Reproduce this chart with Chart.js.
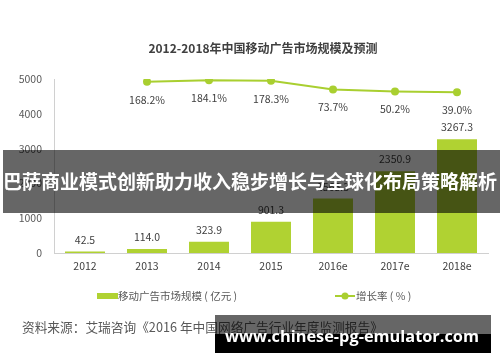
<!DOCTYPE html>
<html>
<head>
<meta charset="utf-8">
<script src="https://cdn.jsdelivr.net/npm/chart.js@4.4.1/dist/chart.umd.min.js"></script>
<style>
  html, body { margin: 0; padding: 0; background: #fff; }
</style>
</head>
<body>
<canvas id="canvas" width="500" height="362"></canvas>
<script>
// data
const years = ['2012', '2013', '2014', '2015', '2016e', '2017e', '2018e'];
const marketSize = [42.5, 114.0, 323.9, 901.3, 1565.3, 2350.9, 3267.3];   // 亿元
const growthRate = [null, 168.2, 184.1, 178.3, 73.7, 50.2, 39.0];         // %

const titleText = '2012-2018年中国移动广告市场规模及预测';
const barLegend = '移动广告市场规模 ( 亿元 )';
const lineLegend = '增长率 ( % )';
const sourceText = '资料来源：艾瑞咨询《2016 年中国网络广告行业年度监测报告》';
const bannerText = '巴萨商业模式创新助力收入稳步增长与全球化布局策略解析';
const siteText = 'www.chinese-pg-emulator.com';

const green = '#b0d232';
const lineGreen = '#a9cf30';
const cjk = '"Noto Sans CJK SC", "Noto Sans", sans-serif';

// text fitted to a given width
function fitFont(ctx, text, weight, family, width) {
  ctx.font = weight + ' 20px ' + family;
  let size = 20 * width / ctx.measureText(text).width;
  ctx.font = weight + ' ' + size + 'px ' + family;
}

const labelsPlugin = {
  id: 'labels',
  afterDatasetsDraw(chart) {
    let ctx = chart.ctx;
    ctx.save();
    ctx.fillStyle = '#404040';
    ctx.font = '10.5px ' + cjk;
    ctx.textAlign = 'center';
    ctx.textBaseline = 'middle';

    // bar values above bars
    let bars = chart.getDatasetMeta(1).data;
    bars.forEach((b, i) => {
      ctx.fillText(marketSize[i].toFixed(1), b.x, b.y - 12);
    });

    // growth rates below points
    let pts = chart.getDatasetMeta(0).data;
    pts.forEach((p, i) => {
      if (growthRate[i] == null) return;
      ctx.fillText(growthRate[i].toFixed(1) + '%', p.x, p.y + 18);
    });
    ctx.restore();
  },
  afterDraw(chart) {
    let ctx = chart.ctx;
    ctx.save();

    // title
    ctx.fillStyle = '#404040';
    ctx.font = 'bold 12px ' + cjk;
    ctx.textAlign = 'center';
    ctx.textBaseline = 'middle';
    ctx.fillText(titleText, 263, 48);

    // legend
    ctx.font = '10.5px ' + cjk;
    ctx.textAlign = 'left';
    ctx.fillStyle = green;
    ctx.fillRect(97, 293, 21, 6);
    ctx.fillStyle = '#595959';
    ctx.fillText(barLegend, 118, 296);

    ctx.strokeStyle = lineGreen;
    ctx.lineWidth = 2;
    ctx.beginPath();
    ctx.moveTo(335, 296);
    ctx.lineTo(355, 296);
    ctx.stroke();
    ctx.fillStyle = lineGreen;
    ctx.beginPath();
    ctx.arc(345, 296, 3.5, 0, Math.PI * 2);
    ctx.fill();
    ctx.fillStyle = '#595959';
    ctx.fillText(lineLegend, 356, 296);

    // source line
    ctx.fillStyle = '#595959';
    fitFont(ctx, sourceText, 'normal', cjk, 361);
    ctx.fillText(sourceText, 22, 327);

    // banner across the chart
    ctx.fillStyle = 'rgba(0,0,0,0.6)';
    ctx.fillRect(3, 150, 497, 63);
    ctx.fillStyle = '#fff';
    fitFont(ctx, bannerText, 'bold', cjk, 494);
    ctx.textAlign = 'center';
    ctx.fillText(bannerText, 250, 182);

    // site watermark
    ctx.fillStyle = 'rgba(0,0,0,0.6)';
    ctx.fillRect(215, 315, 276, 19);
    ctx.fillStyle = '#000';
    ctx.fillRect(215, 334, 276, 19);
    ctx.fillStyle = '#fff';
    fitFont(ctx, siteText, 'bold', '"Open Sans", "DejaVu Sans", sans-serif', 254);
    ctx.textAlign = 'left';
    ctx.textBaseline = 'alphabetic';
    ctx.fillText(siteText, 225, 342);

    ctx.restore();
  }
};

let options = {
  type: 'bar',
  data: {
    labels: years,
    datasets: [{
      type: 'line',
      label: lineLegend,
      data: growthRate,
      yAxisID: 'y1',
      borderColor: lineGreen,
      backgroundColor: lineGreen,
      borderWidth: 2,
      pointRadius: 4,
      pointBorderWidth: 0,
      tension: 0,
      order: 0
    }, {
      type: 'bar',
      label: barLegend,
      data: marketSize,
      yAxisID: 'y',
      backgroundColor: green,
      categoryPercentage: 1,
      barPercentage: 0.645,
      order: 1
    }]
  },
  options: {
    responsive: false,
    animation: false,
    layout: { padding: { top: 79, right: 12, bottom: 0, left: 0 } },
    plugins: {
      legend: { display: false },
      title: { display: false },
      tooltip: { enabled: false }
    },
    scales: {
      x: {
        grid: { display: false, drawTicks: false },
        border: { color: '#d0d0d0' },
        ticks: { color: '#404040', font: { size: 10.5, family: cjk }, padding: 7 },
        afterFit(s) { s.height = 109; }
      },
      y: {
        position: 'left',
        min: 0,
        max: 5000,
        grid: { display: false, drawTicks: false },
        border: { color: '#d0d0d0' },
        ticks: {
          stepSize: 1000,
          color: '#595959',
          font: { size: 10.5, family: cjk },
          padding: 12,
          callback: v => String(v)
        },
        afterFit(s) { s.width = 54; }
      },
      y1: {
        display: false,
        min: -1900,
        max: 200
      }
    }
  },
  plugins: [labelsPlugin]
};

let chart = new Chart(document.getElementById('canvas'), options);
</script>
</body>
</html>
